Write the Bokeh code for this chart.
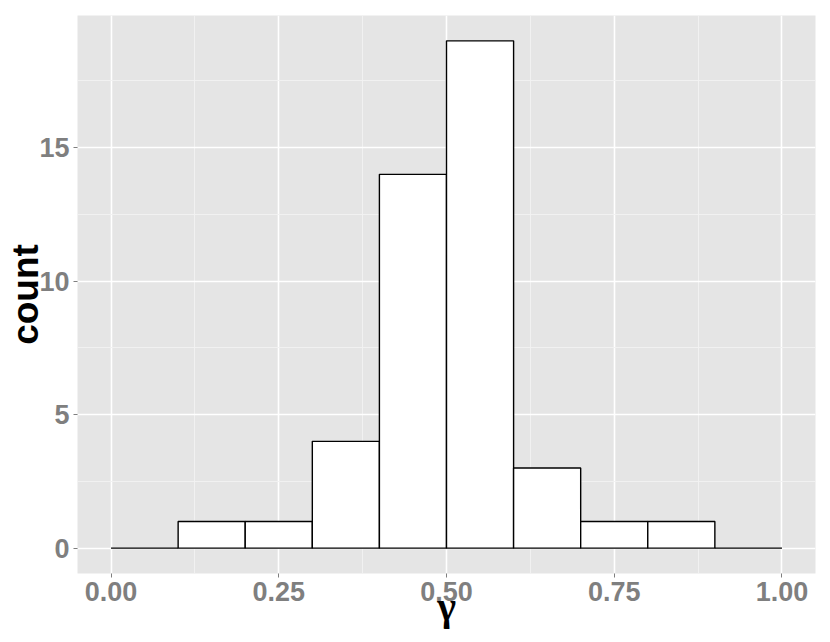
from bokeh.plotting import figure
from bokeh.models import Range1d, FixedTicker, ColumnDataSource
from bokeh.embed import file_html
from bokeh.resources import INLINE

# ---- data ----
bin_left = [0.0, 0.1, 0.2, 0.3, 0.4, 0.5, 0.6, 0.7, 0.8, 0.9]
bin_right = [0.1, 0.2, 0.3, 0.4, 0.5, 0.6, 0.7, 0.8, 0.9, 1.0]
counts = [0, 1, 1, 4, 14, 19, 3, 1, 1, 0]
x_ticks = [0.0, 0.25, 0.5, 0.75, 1.0]
x_tick_labels = ["0.00", "0.25", "0.50", "0.75", "1.00"]
x_minor = [0.125, 0.375, 0.625, 0.875]
y_ticks = [0, 5, 10, 15]
y_tick_labels = ["0", "5", "10", "15"]
y_minor = [2.5, 7.5, 12.5, 17.5]
x_title = "γ"
y_title = "count"

src = ColumnDataSource(dict(left=bin_left, right=bin_right, top=counts,
                            bottom=[0] * len(counts)))

p = figure(width=822, height=640, output_backend="svg", toolbar_location=None,
           x_range=Range1d(-0.05, 1.05), y_range=Range1d(-0.95, 19.95),
           min_border_left=77, min_border_right=7, min_border_top=15,
           min_border_bottom=67)

p.background_fill_color = "#E5E5E5"
p.border_fill_color = "white"
p.outline_line_color = None

p.quad(left="left", right="right", top="top", bottom="bottom", source=src,
       fill_color="white", line_color="black", line_width=1.4)

# axes
p.xaxis.ticker = FixedTicker(ticks=x_ticks, minor_ticks=x_minor)
p.yaxis.ticker = FixedTicker(ticks=y_ticks, minor_ticks=y_minor)
p.xaxis.major_label_overrides = {t: l for t, l in zip(x_ticks, x_tick_labels)}
p.yaxis.major_label_overrides = {t: l for t, l in zip(y_ticks, y_tick_labels)}

for ax in (p.xaxis[0], p.yaxis[0]):
    ax.axis_line_color = None
    ax.major_tick_line_color = "#7F7F7F"
    ax.major_tick_line_width = 1
    ax.major_tick_out = 4
    ax.major_tick_in = 0
    ax.minor_tick_line_color = None
    ax.major_label_text_font = "Liberation Sans"
    ax.major_label_text_font_style = "bold"
    ax.major_label_text_font_size = "27px"
    ax.major_label_text_color = "#7F7F7F"
    ax.axis_label_text_color = "black"
p.xaxis.major_label_standoff = 4
p.yaxis.major_label_standoff = 4

p.xaxis.axis_label = x_title
p.xaxis.axis_label_text_font = "Liberation Serif"
p.xaxis.axis_label_text_font_style = "bold"
p.xaxis.axis_label_text_font_size = "40px"
p.xaxis.axis_label_standoff = -20

p.yaxis.axis_label = y_title
p.yaxis.axis_label_text_font = "Liberation Sans"
p.yaxis.axis_label_text_font_style = "bold"
p.yaxis.axis_label_text_font_size = "37px"
p.yaxis.axis_label_standoff = -10

# grids
for g in (p.xgrid[0], p.ygrid[0]):
    g.grid_line_color = "white"
    g.grid_line_width = 1.6
    g.minor_grid_line_color = "#F2F2F2"
    g.minor_grid_line_width = 0.9
p.xgrid.ticker = FixedTicker(ticks=x_ticks, minor_ticks=x_minor)
p.ygrid.ticker = FixedTicker(ticks=y_ticks, minor_ticks=y_minor)

open("out.html", "w").write(file_html(p, INLINE))
